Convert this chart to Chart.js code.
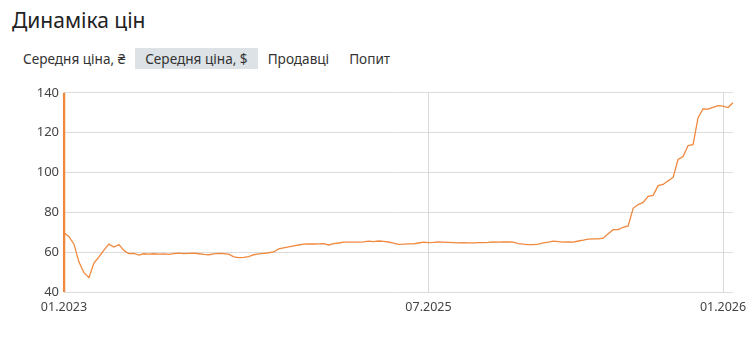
<!DOCTYPE html>
<html lang="uk">
<head>
    <meta charset="UTF-8">
    <title>Динаміка цін</title>
    <style>
        body {
            margin: 0;
            background: #fff;
            font-family: "Noto Sans", Arial, sans-serif;
            width: 755px;
            height: 343px;
            position: relative;
            overflow: hidden;
        }
        h2 {
            position: absolute;
            left: 12px;
            top: 6px;
            margin: 0;
            font-size: 21px;
            font-weight: normal;
            color: #222;
        }
        .tabs {
            position: absolute;
            left: 13px;
            top: 48px;
            display: flex;
            font-size: 13.6px;
            color: #333;
        }
        .tab {
            padding: 0 10px;
            height: 21px;
            line-height: 21px;
        }
        .tab.active {
            background: #dde2e6;
        }
        .chart-box {
            position: absolute;
            left: 0;
            top: 80px;
            width: 755px;
            height: 240px;
        }
    </style>
</head>
<body>
    <h2>Динаміка цін</h2>
    <div class="tabs">
        <div class="tab">Середня ціна, ₴</div>
        <div class="tab active">Середня ціна, $</div>
        <div class="tab">Продавці</div>
        <div class="tab">Попит</div>
    </div>
    <div class="chart-box">
        <canvas id="price-chart"></canvas>
    </div>
    <script src="https://cdn.jsdelivr.net/npm/chart.js"></script>
    <script>
        // average price, USD (roughly weekly)
        const prices = [
            69.7, 67.8, 64.0, 55.0, 49.7, 47.2, 54.5, 57.6, 61.0, 64.0,
            62.6, 63.8, 60.8, 59.3, 59.4, 58.5, 59.2, 59.0, 59.2, 59.0,
            59.1, 58.9, 59.3, 59.5, 59.3, 59.4, 59.5, 59.2, 58.9, 58.7,
            59.1, 59.4, 59.3, 59.0, 57.6, 57.3, 57.4, 57.8, 58.7, 59.1,
            59.4, 59.7, 60.1, 61.6, 62.2, 62.6, 63.1, 63.6, 64.0, 64.1,
            64.1, 64.2, 64.3, 63.6, 64.3, 64.6, 65.0, 65.0, 65.0, 65.0,
            65.2, 65.5, 65.3, 65.6, 65.4, 65.1, 64.5, 63.9, 64.0, 64.2,
            64.2, 64.6, 65.0, 64.8, 64.9, 65.1, 65.0, 64.9, 64.8, 64.7,
            64.8, 64.7, 64.7, 64.8, 64.8, 64.9, 65.1, 65.0, 65.1, 65.1,
            65.0, 64.3, 64.0, 63.8, 63.8, 64.0, 64.7, 65.0, 65.5, 65.3,
            65.0, 65.2, 65.0, 65.6, 66.0, 66.5, 66.7, 66.7, 67.0, 69.2,
            71.3, 71.3, 72.5, 73.2, 82.0, 83.9, 85.0, 88.0, 88.5, 93.4,
            94.0, 95.8, 97.5, 106.5, 108.0, 113.5, 114.0, 127.5, 131.9, 131.8,
            132.7, 133.6, 133.3, 132.6, 135.0
        ];
        // the first reading jumps out of range (vertical stroke at the start)
        const spikeValues = [0, 300];

        // only three dates are labelled on the axis
        const tickLabels = { 0: '01.2023', 73: '07.2025', 132: '01.2026' };
        const labels = prices.map((_, i) => tickLabels[i] || '');

        const yTicks = { min: 40, max: 140, step: 20 };
        const lineColor = '#f0883e';

        new Chart(document.getElementById('price-chart'), {
            type: 'line',
            data: {
                labels: labels,
                datasets: [
                    {
                        data: prices,
                        borderColor: lineColor,
                        borderWidth: 1.3,
                        pointRadius: 0,
                        tension: 0
                    },
                    {
                        data: spikeValues.map(v => ({ x: labels[0], y: v })),
                        borderColor: lineColor,
                        borderWidth: 2.5,
                        pointRadius: 0
                    }
                ]
            },
            options: {
                responsive: true,
                maintainAspectRatio: false,
                animation: false,
                layout: { padding: { top: 11, right: 22, left: 0, bottom: 0 } },
                plugins: {
                    legend: { display: false },
                    tooltip: { enabled: false }
                },
                scales: {
                    x: {
                        border: { display: false },
                        grid: {
                            drawTicks: false,
                            color: ctx => (ctx.tick && ctx.tick.label && ctx.index !== 0) ? '#d9d9d9' : 'rgba(0,0,0,0)'
                        },
                        ticks: {
                            autoSkip: false,
                            maxRotation: 0,
                            padding: 8,
                            color: '#444',
                            font: { family: 'Noto Sans', size: 12.5 }
                        },
                        afterFit: scale => { scale.height = 28; }
                    },
                    y: {
                        min: yTicks.min,
                        max: yTicks.max,
                        border: { display: false },
                        grid: { drawTicks: false, color: '#dcdcdc' },
                        ticks: {
                            stepSize: yTicks.step,
                            padding: 5,
                            color: '#444',
                            font: { family: 'Noto Sans', size: 13 }
                        },
                        afterFit: scale => { scale.width = 64; }
                    }
                }
            }
        });
    </script>
</body>
</html>
